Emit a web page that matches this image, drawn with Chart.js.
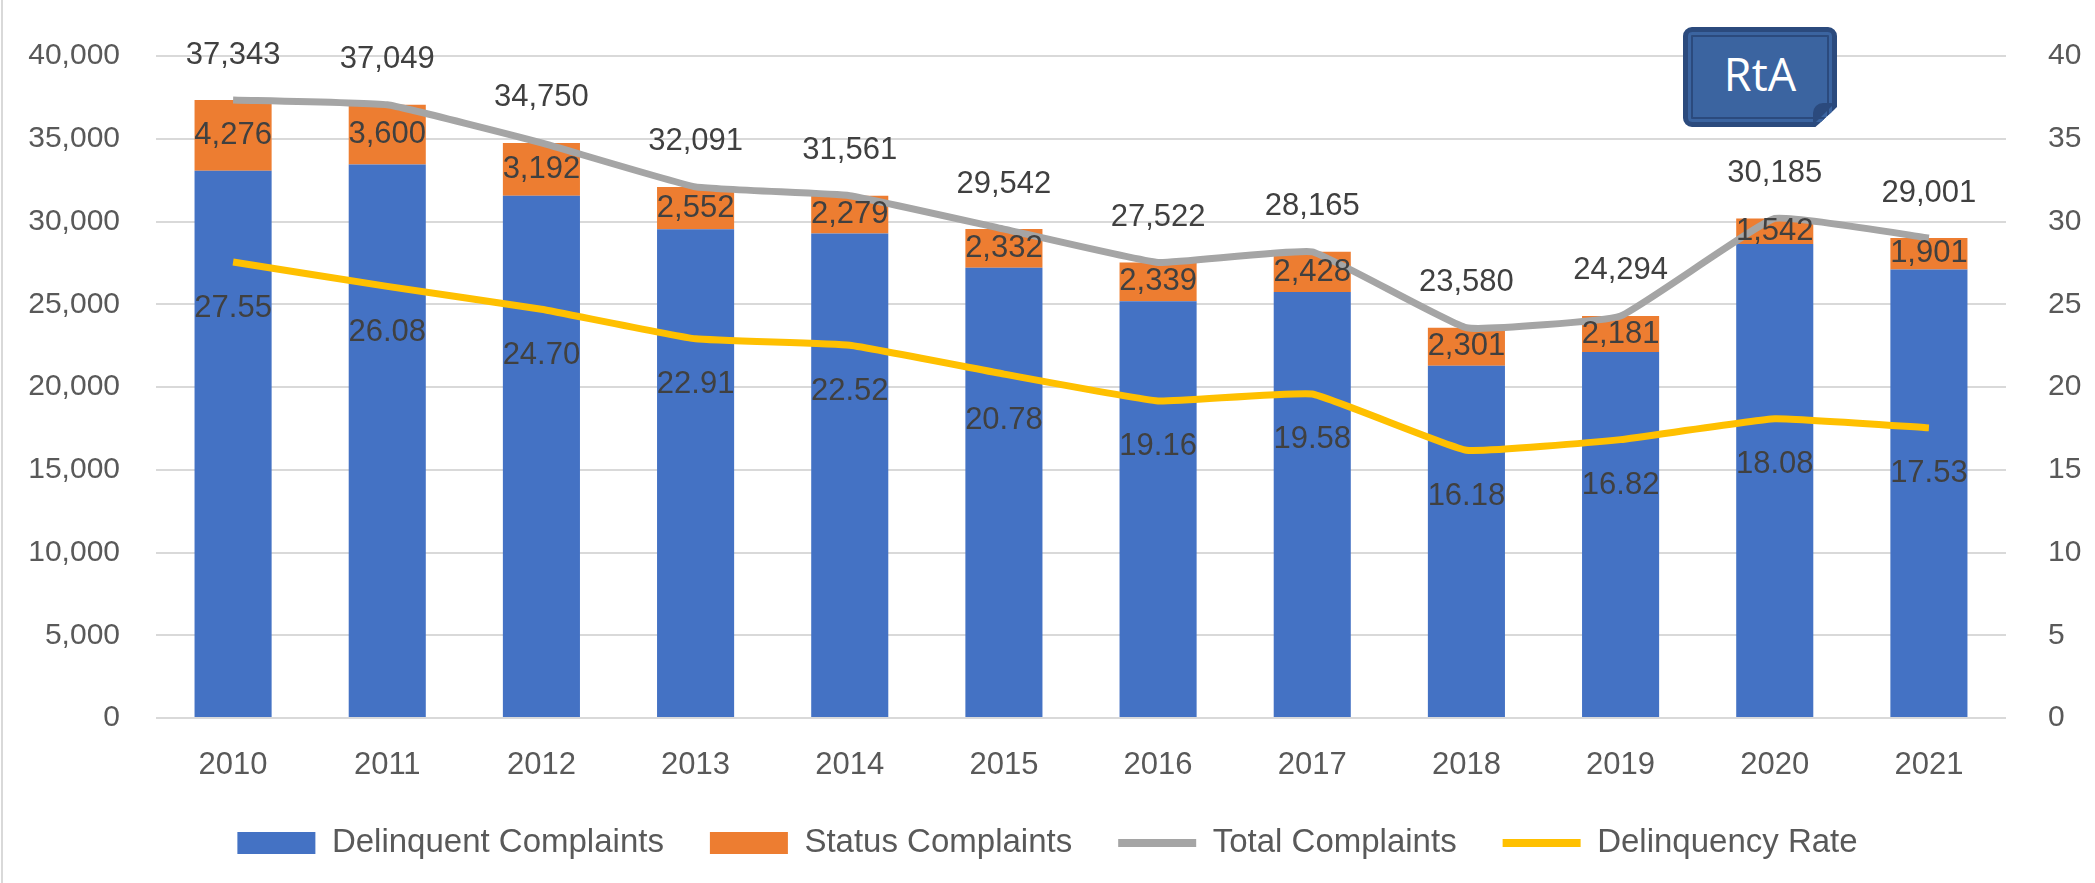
<!DOCTYPE html>
<html>
<head>
<meta charset="utf-8">
<script src="https://cdn.jsdelivr.net/npm/chart.js@4"></script>
<style>
  html, body { margin: 0; padding: 0; background: #fff; }
  #wrap { position: relative; width: 2095px; height: 883px; }
  #edge { position: absolute; left: 1px; top: 0; width: 2px; height: 883px; background: #d9d9d9; }
  #badge {
    position: absolute; left: 1683px; top: 27px; width: 154px; height: 100px;
    box-sizing: border-box; background: #3b64a0; border: 5px solid #2b4a7d; border-radius: 9px;
    box-shadow: inset 0 0 0 3px #3b64a0, inset 0 0 0 5px #2b4a7d;
    color: #fff; font-family: 'Open Sans', 'Liberation Sans', sans-serif; font-size: 45px;
    line-height: 84px; text-align: center;
    clip-path: polygon(0 0, 100% 0, 100% 80%, 86% 100%, 0 100%);
  }
  #curl {
    position: absolute; left: 1813px; top: 103px; width: 22px; height: 22px;
    background: #2b4a7d; border-radius: 10px 4px 4px 4px;
    clip-path: polygon(0 100%, 100% 0, 100% 0, 0 0);
  }
</style>
</head>
<body>
<div id="wrap">
  <canvas id="chart" width="2095" height="883"></canvas>
  <div id="edge"></div>
  <div id="badge">RtA</div>
  <div id="curl"></div>
</div>
<script>
const years = ['2010', '2011', '2012', '2013', '2014', '2015', '2016', '2017', '2018', '2019', '2020', '2021'];
const delinquent = [33067, 33449, 31558, 29539, 29282, 27210, 25183, 25737, 21279, 22113, 28643, 27100];
const status = [4276, 3600, 3192, 2552, 2279, 2332, 2339, 2428, 2301, 2181, 1542, 1901];
const total = [37343, 37049, 34750, 32091, 31561, 29542, 27522, 28165, 23580, 24294, 30185, 29001];
const rate = [27.55, 26.08, 24.70, 22.91, 22.52, 20.78, 19.16, 19.58, 16.18, 16.82, 18.08, 17.53];

const FONT = "'Liberation Sans', Arial, sans-serif";

// value labels drawn over the marks
const valueLabels = {
    id: 'valueLabels',
    afterDatasetsDraw(chart) {
        const ctx = chart.ctx;
        ctx.save();
        ctx.font = '31px ' + FONT;
        ctx.fillStyle = '#404040';
        ctx.textAlign = 'center';
        ctx.textBaseline = 'middle';
        chart.getDatasetMeta(1).data.forEach((bar, i) => {
            const p = bar.getProps(['x', 'y', 'base'], true);
            ctx.fillText(status[i].toLocaleString('en-US'), p.x, (p.y + p.base) / 2);
        });
        chart.getDatasetMeta(2).data.forEach((pt, i) => {
            ctx.fillText(total[i].toLocaleString('en-US'), pt.x, pt.y - 45);
        });
        chart.getDatasetMeta(3).data.forEach((pt, i) => {
            ctx.fillText(rate[i].toFixed(2), pt.x, pt.y + 46);
        });
        ctx.restore();
    }
};

new Chart(document.getElementById('chart'), {
    data: {
        labels: years,
        datasets: [
            { type: 'bar', label: 'Delinquent Complaints', data: delinquent, backgroundColor: '#4472c4', stack: 'bars', yAxisID: 'y', order: 2, barPercentage: 0.5, categoryPercentage: 1 },
            { type: 'bar', label: 'Status Complaints', data: status, backgroundColor: '#ed7d31', stack: 'bars', yAxisID: 'y', order: 2, barPercentage: 0.5, categoryPercentage: 1 },
            { type: 'line', label: 'Total Complaints', data: total, borderColor: '#a5a5a5', backgroundColor: '#a5a5a5', borderWidth: 7, pointRadius: 0, tension: 0.1, borderJoinStyle: 'round', stack: 'tot', yAxisID: 'y', order: 1 },
            { type: 'line', label: 'Delinquency Rate', data: rate, borderColor: '#ffc000', backgroundColor: '#ffc000', borderWidth: 7, pointRadius: 0, tension: 0.1, borderJoinStyle: 'round', yAxisID: 'y1', order: 0 }
        ]
    },
    options: {
        responsive: false,
        animation: false,
        layout: { padding: { top: 56, bottom: 13.5, left: 0, right: 0 } },
        plugins: {
            tooltip: { enabled: false },
            legend: {
                position: 'bottom',
                labels: {
                    font: { size: 33, family: FONT },
                    color: '#595959',
                    usePointStyle: true,
                    pointStyleWidth: 78,
                    boxHeight: 22,
                    padding: 46,
                    sort: (a, b) => a.datasetIndex - b.datasetIndex,
                    generateLabels(chart) {
                        const items = Chart.defaults.plugins.legend.labels.generateLabels(chart);
                        items.forEach(it => {
                            const ds = chart.data.datasets[it.datasetIndex];
                            it.pointStyle = ds.type === 'line' ? 'line' : 'rect';
                            if (ds.type === 'line') it.lineWidth = 8;
                        });
                        return items;
                    }
                }
            }
        },
        scales: {
            x: {
                offset: true,
                grid: { display: false },
                border: { display: false },
                ticks: { font: { size: 31, family: FONT }, color: '#595959', padding: 21, maxRotation: 0 },
                afterFit(scale) { scale.height = 62.5; }
            },
            y: {
                position: 'left',
                stacked: true,
                min: 0, max: 40000,
                grid: { color: '#d9d9d9', lineWidth: 2, drawTicks: false },
                border: { display: false },
                ticks: { stepSize: 5000, font: { size: 30, family: FONT }, color: '#595959', padding: 36,
                    callback: v => v.toLocaleString('en-US') },
                afterFit(scale) { scale.width = 156; }
            },
            y1: {
                position: 'right',
                min: 0, max: 40,
                grid: { display: false },
                border: { display: false },
                ticks: { stepSize: 5, font: { size: 30, family: FONT }, color: '#595959', padding: 34 },
                afterFit(scale) { scale.width = 89; }
            }
        }
    },
    plugins: [valueLabels]
});
</script>
</body>
</html>
